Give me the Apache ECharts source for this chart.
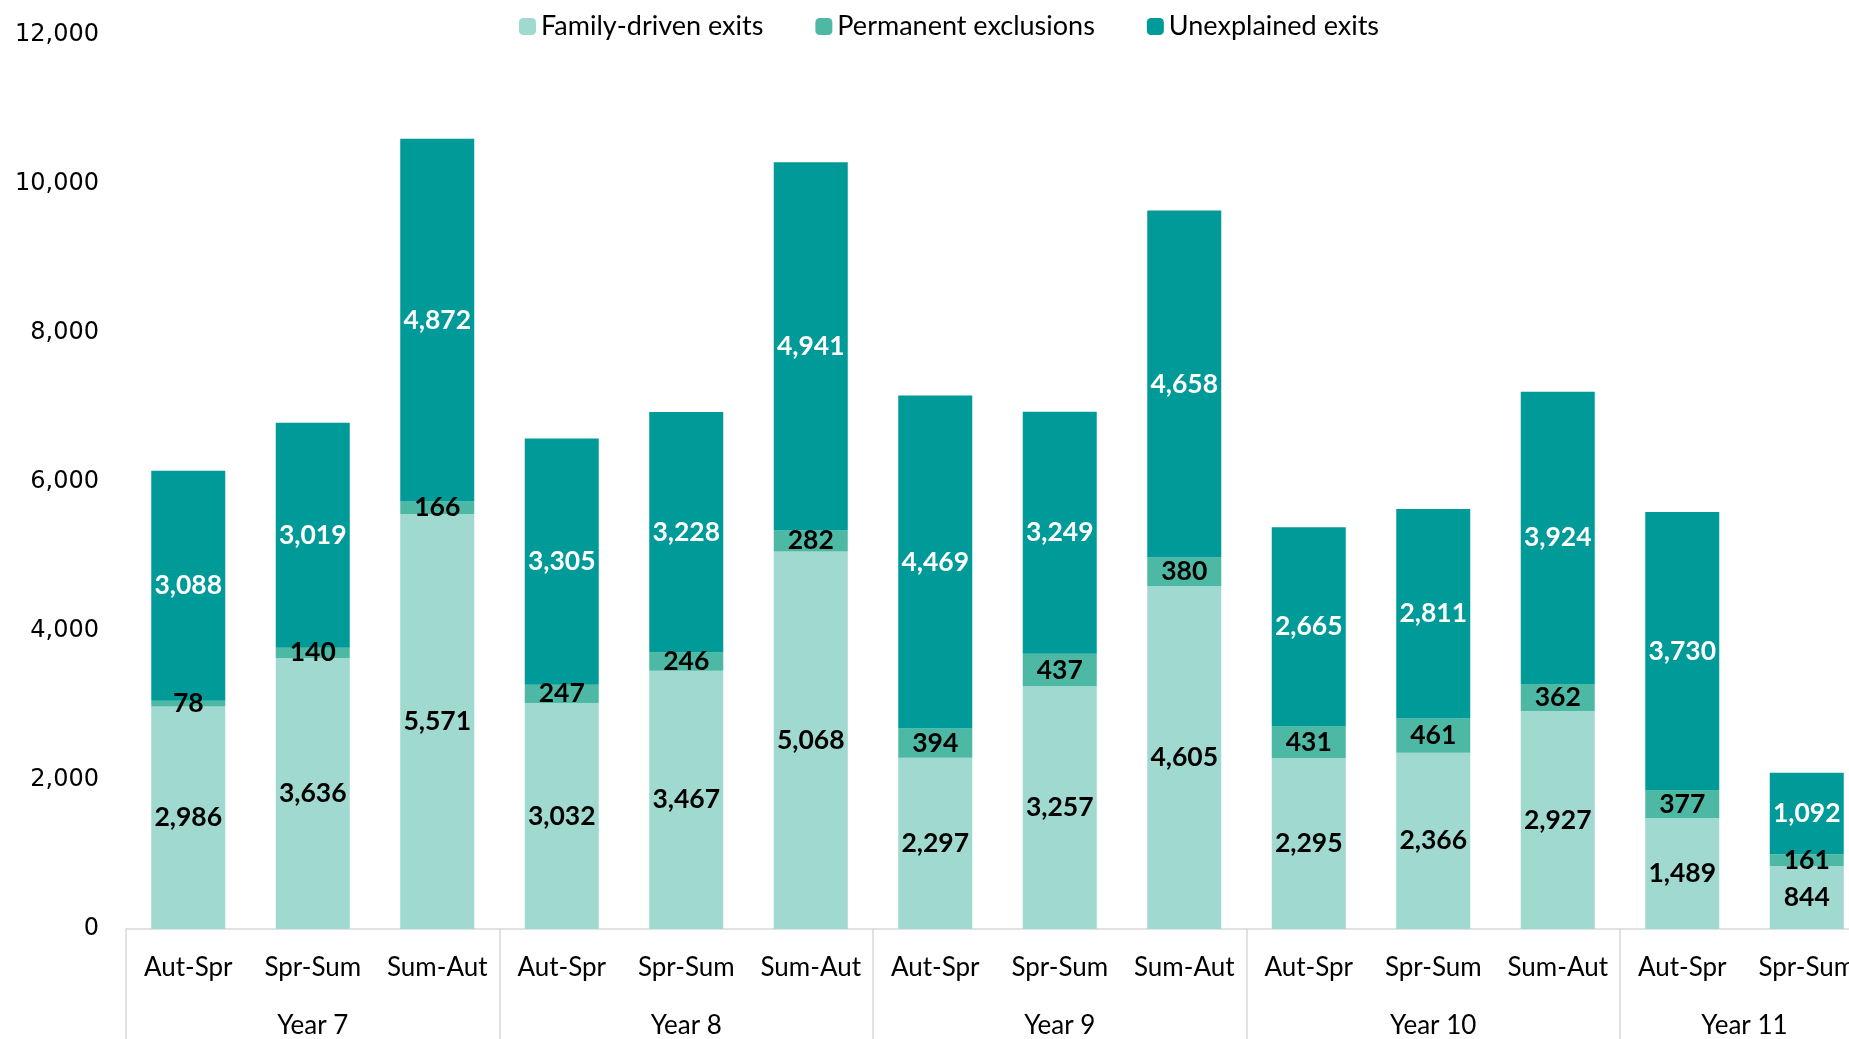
<!DOCTYPE html>
<html>
<head>
<meta charset="utf-8">
<script src="https://cdn.jsdelivr.net/npm/echarts@6/dist/echarts.min.js"></script>
<style>html,body{margin:0;padding:0;background:#fff;overflow:hidden;}#c{width:1872px;height:1039px;}</style>
</head>
<body>
<div id="c"></div>
<script>
const categories = ['Aut-Spr','Spr-Sum','Sum-Aut','Aut-Spr','Spr-Sum','Sum-Aut','Aut-Spr','Spr-Sum','Sum-Aut','Aut-Spr','Spr-Sum','Sum-Aut','Aut-Spr','Spr-Sum'];
const groups = ['Year 7','Year 8','Year 9','Year 10','Year 11'];
const groupSizes = [3,3,3,3,2];
const familyDriven = [2986,3636,5571,3032,3467,5068,2297,3257,4605,2295,2366,2927,1489,844];
const permanentExclusions = [78,140,166,247,246,282,394,437,380,431,461,362,377,161];
const unexplained = [3088,3019,4872,3305,3228,4941,4469,3249,4658,2665,2811,3924,3730,1092];
const yTicks = {min:0, max:12000, interval:2000};

// build half-slot axis for group labels
const halfSlots = [];
const boundaries = [0];
const labelPos = {};
let pos = 0;
groups.forEach((g,i)=>{ labelPos[pos + groupSizes[i]] = g; pos += groupSizes[i]*2; boundaries.push(pos); });
for (let i=0;i<=pos;i++) halfSlots.push(labelPos[i] || '');

const fmt = v => v.value.toLocaleString('en-US');
const labelBase = {show:true, position:'inside', fontFamily:'Lato', fontWeight:'bold', fontSize:26.5, formatter: fmt};

const chart = echarts.init(document.getElementById('c'));
chart.setOption({
  animation:false,
  legend:{
    top:8, left:514, itemWidth:17, itemHeight:17, itemGap:52,
    textStyle:{fontFamily:'Lato', fontSize:27, color:'#000'},
    data:['Family-driven exits','Permanent exclusions','Unexplained exits']
  },
  grid:{left:126, top:35, right:0, height:895},
  xAxis:[
    {type:'category', data:categories, position:'bottom',
     axisLine:{lineStyle:{color:'#d9d9d9', width:1.5}}, axisTick:{show:false},
     axisLabel:{interval:0, margin:26, fontFamily:'Lato', fontSize:26, color:'#000'}},
    {type:'category', data:halfSlots, position:'bottom', boundaryGap:false,
     axisLine:{show:false},
     axisTick:{show:true, inside:false, length:115, interval:(idx)=>boundaries.includes(idx), lineStyle:{color:'#d9d9d9', width:1.5}},
     axisLabel:{interval:0, margin:84, fontFamily:'Lato', fontSize:26, color:'#000'}}
  ],
  yAxis:{type:'value', min:yTicks.min, max:yTicks.max, interval:yTicks.interval,
    axisLine:{show:false}, axisTick:{show:false}, splitLine:{show:false},
    axisLabel:{margin:27, padding:[5,0,0,0], fontFamily:'DejaVu Sans', fontSize:24, color:'#000', formatter:v=>v.toLocaleString('en-US')}},
  series:[
    {name:'Family-driven exits', type:'bar', stack:'a', data:familyDriven, barWidth:74,
     itemStyle:{color:'#9fd9cf'}, label:Object.assign({color:'#000'}, labelBase)},
    {name:'Permanent exclusions', type:'bar', stack:'a', data:permanentExclusions, barWidth:74,
     itemStyle:{color:'#4db8a4'}, label:Object.assign({color:'#000'}, labelBase)},
    {name:'Unexplained exits', type:'bar', stack:'a', data:unexplained, barWidth:74,
     itemStyle:{color:'#009a98'}, label:Object.assign({color:'#fff'}, labelBase)}
  ]
});
</script>
</body>
</html>
